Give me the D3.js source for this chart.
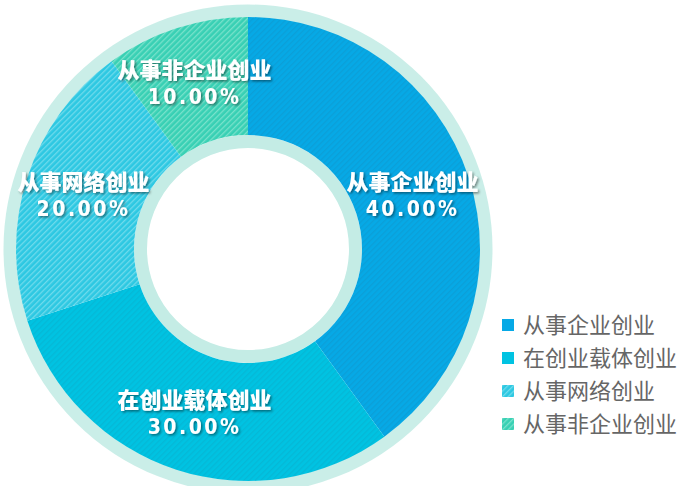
<!DOCTYPE html>
<html><head><meta charset="utf-8">
<script src="https://cdn.jsdelivr.net/npm/d3@7"></script>
<style>
html,body{margin:0;padding:0;background:#fff;}
svg{display:block;}
</style>
</head><body>
<svg id="chart" width="679" height="486"></svg>
<script>
const categories = ["从事企业创业", "在创业载体创业", "从事网络创业", "从事非企业创业"];
const values = [40, 30, 20, 10];
const baseColors = ["#06a9e6", "#00c3e2", "#2dc8e2", "#38d0b4"];
const stripeColors = ["#0b9fd8", "#05b8d6", "#6fdbec", "#78e2cb"];

const W = 679, H = 486;
const cx = 248, cy = 249;
const rOuter = 232, rInner = 114;
const svg = d3.select("#chart");
const defs = svg.append("defs");

baseColors.forEach((c, i) => {
  const p = defs.append("pattern").attr("id", "pat" + i)
    .attr("patternUnits", "userSpaceOnUse").attr("width", 4).attr("height", 4)
    .attr("patternTransform", "rotate(45)");
  p.append("rect").attr("width", 4).attr("height", 4).attr("fill", c);
  p.append("rect").attr("width", 1.3).attr("height", 4).attr("fill", stripeColors[i]);
});
const sh = defs.append("filter").attr("id", "tshadow").attr("x", "-20%").attr("y", "-20%").attr("width", "140%").attr("height", "140%");
sh.append("feDropShadow").attr("dx", 1.5).attr("dy", 1.5).attr("stdDeviation", 0.8)
  .attr("flood-color", "#000").attr("flood-opacity", 0.45);

const g = svg.append("g").attr("transform", `translate(${cx},${cy})`);

// pale rings
g.append("circle").attr("r", 238).attr("fill", "none").attr("stroke", "#c4ece5").attr("stroke-width", 13).attr("opacity", 0.9);
g.append("circle").attr("r", 107.5).attr("fill", "none").attr("stroke", "#c4ece5").attr("stroke-width", 13);

const pie = d3.pie().sort(null).value(d => d.v);
const arcs = pie(categories.map((c, i) => ({c, v: values[i], i})));
const arc = d3.arc().innerRadius(rInner).outerRadius(rOuter);
const labelArc = d3.arc().innerRadius(173).outerRadius(173);

g.selectAll("path.slice").data(arcs).enter().append("path")
  .attr("class", "slice")
  .attr("d", arc)
  .attr("fill", d => `url(#pat${d.data.i})`);

const lab = g.selectAll("g.lab").data(arcs).enter().append("g")
  .attr("class", "lab")
  .attr("transform", d => `translate(${labelArc.centroid(d)})`)
  .attr("filter", "url(#tshadow)");
lab.append("text").attr("y", -6).attr("text-anchor", "middle")
  .attr("font-family", "'Noto Sans CJK SC', sans-serif").attr("font-weight", 900)
  .attr("font-size", 22).attr("fill", "#fff")
  .text(d => d.data.c);
lab.append("text").attr("y", 20).attr("text-anchor", "middle")
  .attr("font-family", "'DejaVu Sans Condensed', 'DejaVu Sans', sans-serif").attr("font-weight", "bold")
  .attr("font-size", 21).attr("fill", "#fff").attr("letter-spacing", 2.5)
  .text(d => d3.format(".2f")(d.data.v) + "%");

// legend
const leg = svg.append("g").attr("transform", "translate(502,319)");
const row = leg.selectAll("g").data(categories).enter().append("g")
  .attr("transform", (d, i) => `translate(0,${i * 33})`);
row.append("rect").attr("width", 12).attr("height", 12)
  .attr("fill", (d, i) => i < 2 ? baseColors[i] : `url(#pat${i})`);
row.append("text").attr("x", 21).attr("y", 6).attr("dy", "0.36em")
  .attr("font-family", "'Noto Sans CJK SC', sans-serif").attr("font-size", 22)
  .attr("fill", "#666").text(d => d);
</script>
</body></html>
